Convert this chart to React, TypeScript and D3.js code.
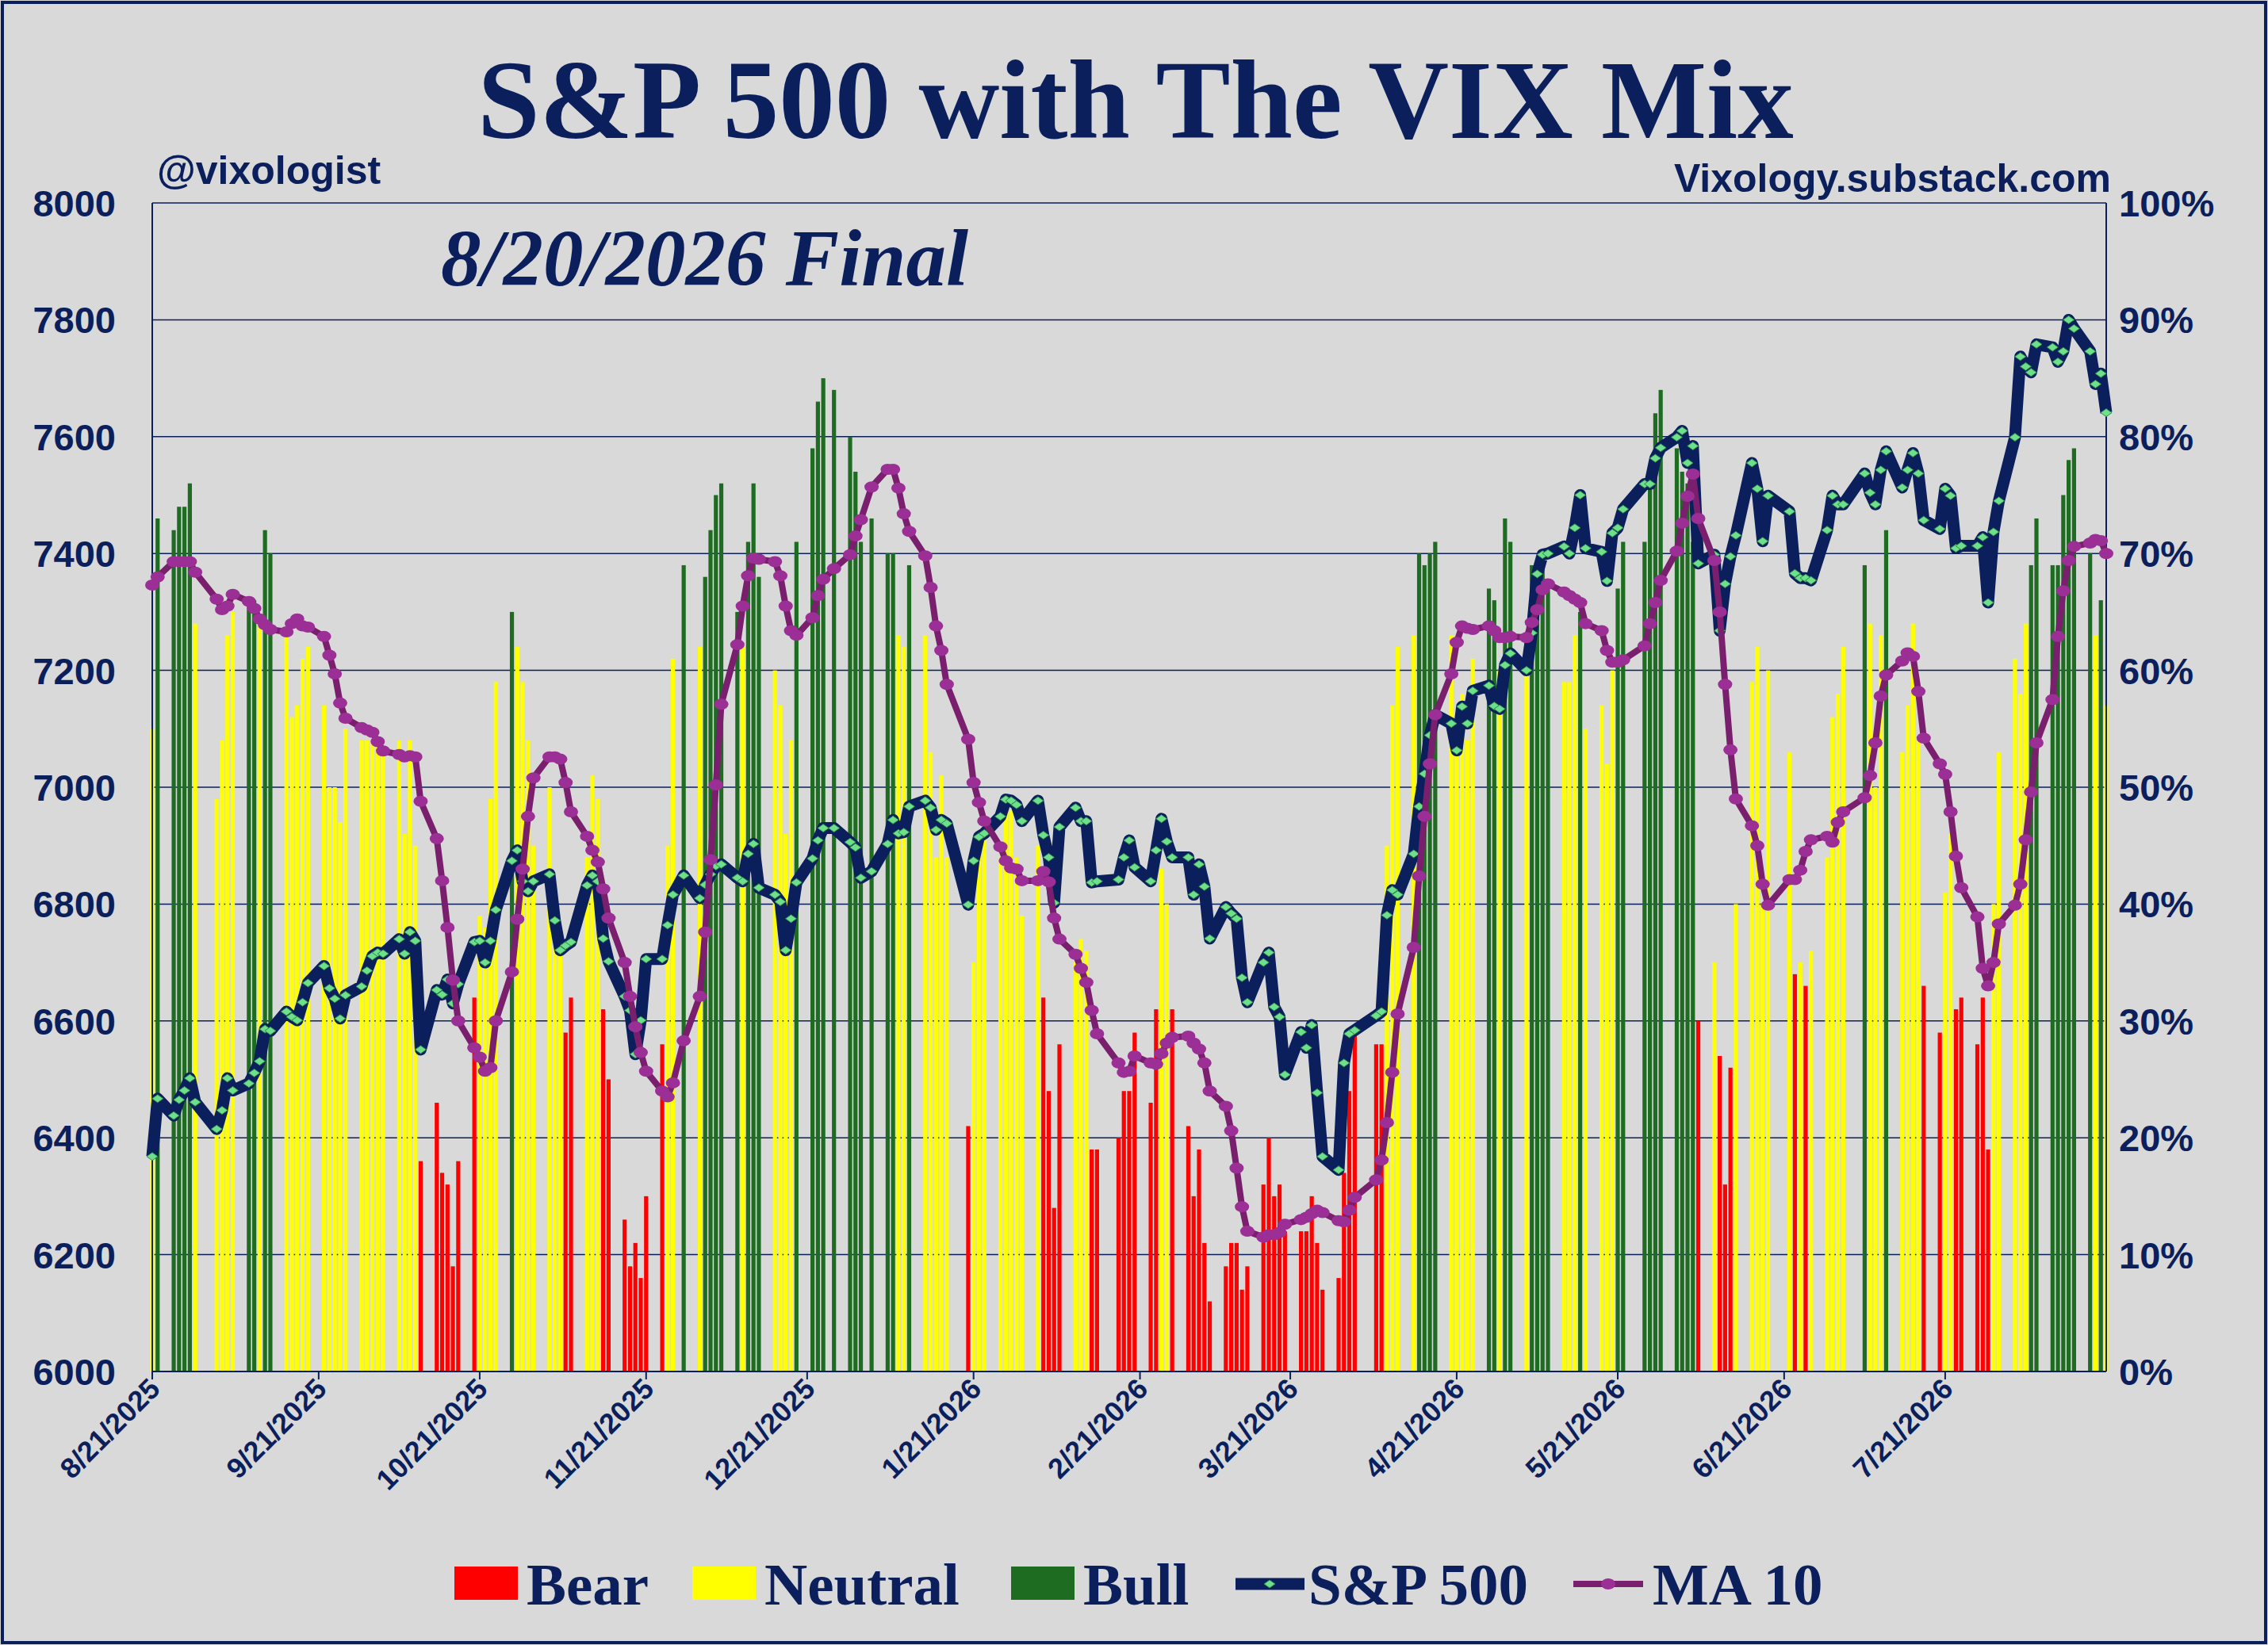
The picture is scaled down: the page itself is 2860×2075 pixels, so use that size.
import * as d3 from 'd3';

// trading-day values, 8/21/2025 .. 8/20/2026 (weekdays minus holidays)
const holidays = ['2025-09-01', '2025-11-27', '2025-12-25', '2026-01-01', '2026-01-19', '2026-02-16', '2026-04-03', '2026-05-25', '2026-06-19', '2026-07-03'];

const spx = [
  6368, 6467,
  6438, 6465, 6481, 6502, 6461,
  6415, 6447, 6502, 6481,
  6493, 6511, 6531, 6586, 6583,
  6616, 6607, 6601, 6632, 6665,
  6694, 6656, 6638, 6604, 6644,
  6659, 6686, 6711, 6717, 6715,
  6740, 6715, 6752, 6737, 6551,
  6653, 6645, 6671, 6630, 6663,
  6735, 6737, 6700, 6737, 6790,
  6874, 6892, 6839, 6822, 6839,
  6851, 6772, 6721, 6729, 6735,
  6832, 6849, 6839, 6741, 6702,
  6642, 6618, 6543, 6601, 6706,
  6706, 6764, 6816, 6849,
  6810, 6833, 6851, 6865, 6868,
  6845, 6839, 6886, 6903, 6828,
  6816, 6804, 6721, 6775, 6837,
  6878, 6909, 6930, 6930,
  6906, 6897, 6845, 6856,
  6903, 6944, 6921, 6923, 6967,
  6977, 6965, 6927, 6944, 6938,
  6799, 6874, 6915, 6921,
  6950, 6979, 6977, 6970, 6942,
  6977, 6918, 6880, 6802, 6932,
  6965, 6942, 6942, 6837, 6839,
  6842, 6880, 6909, 6863,
  6839, 6892, 6946, 6907, 6880,
  6880, 6816, 6868, 6830, 6741,
  6795, 6784, 6775, 6674, 6632,
  6700, 6717, 6624, 6607, 6508,
  6581, 6554, 6593, 6477, 6368,
  6345, 6528, 6578, 6584,
  6609, 6616, 6781, 6824, 6816,
  6886, 6967, 7023, 7089, 7124,
  7109, 7063, 7138, 7109, 7165,
  7174, 7139, 7134, 7209, 7229,
  7200, 7264, 7365, 7398, 7400,
  7412, 7400, 7444, 7500, 7409,
  7403, 7353, 7435, 7444, 7476,
  7519, 7519, 7563, 7581,
  7599, 7610, 7555, 7584, 7383,
  7398, 7268, 7348, 7395, 7431,
  7555, 7511, 7421, 7499,
  7472, 7366, 7358, 7358, 7354,
  7440, 7499, 7484, 7484,
  7537, 7504, 7484, 7543, 7575,
  7513, 7543, 7572, 7537, 7457,
  7442, 7511, 7499, 7409, 7413,
  7413, 7428, 7316, 7437, 7490,
  7599, 7737, 7720, 7710, 7758,
  7753, 7728, 7746, 7800, 7785,
  7746, 7690, 7708, 7641
];

const ma10 = [
  67.3, 68,
  69.3, 69.3, 69.3, 69.3, 68.4,
  66.1, 65.2, 65.5, 66.5,
  65.9, 65.3, 64.4, 63.9, 63.5,
  63.3, 64, 64.4, 63.8, 63.7,
  62.9, 61.3, 59.7, 57.2, 55.9,
  55.1, 54.9, 54.7, 53.9, 53.1,
  52.8, 52.6, 52.7, 52.6, 48.8,
  45.6, 42, 38, 33.5, 30,
  27.7, 26.9, 25.7, 26, 30,
  34.2, 38.7, 43, 47.5, 50.8,
  52.6, 52.6, 52.4, 50.4, 47.9,
  45.8, 44.6, 43.6, 41.3, 38.8,
  35, 32.1, 29.5, 27.3, 25.7,
  24, 23.5, 24.7, 28.3,
  32.1, 37.6, 43.8, 50.2, 57.1,
  62.2, 65.5, 68.1, 69.6, 69.5,
  69.3, 68.1, 65.5, 63.4, 63,
  64.5, 66.4, 67.8, 68.7,
  69.9, 71.5, 72.9, 75.7,
  77.2, 77.2, 75.6, 73.4, 71.9,
  69.8, 67.1, 63.8, 61.7, 58.8,
  54.1, 50.4, 48.7, 47.1,
  44.9, 43.7, 43.1, 43, 42,
  42, 42.8, 41.9, 38.8, 37,
  35.7, 34.5, 33.3, 30.9, 28.9,
  26.4, 25.6, 25.7, 27,
  26.4, 26.3, 27.2, 28.1, 28.6,
  28.7, 28.1, 27.6, 26.4, 24,
  22.7, 20.6, 17.4, 14.1, 12,
  11.5, 11.7, 11.7, 11.9, 12.6,
  13, 13.2, 13.5, 13.8, 13.6,
  12.9, 12.8, 13.8, 14.9,
  16.4, 18.1, 21.3, 25.6, 30.6,
  36.3, 42.4, 47.5, 52, 56.2,
  59.7, 62.4, 63.8, 63.6, 63.5,
  63.8, 63.4, 62.8, 62.8, 62.9,
  62.8, 64.1, 65.2, 66.9, 67.4,
  66.7, 66.4, 66.1, 65.8, 64,
  63.4, 61.7, 60.7, 60.7, 60.9,
  62.1, 64, 65.8, 67.7,
  70.2, 72.6, 74.9, 76.8, 73,
  69.4, 65, 58.8, 53.2, 49,
  46.7, 45, 41.7, 39.9,
  42.1, 42.1, 42.9, 44.5, 45.5,
  45.8, 45.3, 47, 47.9,
  49.1, 51, 53.8, 57.8, 59.6,
  60.8, 61.5, 61.2, 58.2, 54.2,
  52, 51.1, 47.9, 44.1, 41.4,
  38.9, 34.5, 33, 35, 38.3,
  39.9, 41.7, 45.5, 49.6, 53.8,
  57.5, 62.9, 66.8, 69.4, 70.6,
  70.9, 71.2, 71.1, 70
];

// daily VIX Mix reading (%) and its regime: R = Bear, N = Neutral, G = Bull
const mixPct = [
  55, 73,
  72, 74, 74, 76, 64,
  49, 54, 63, 65,
  66, 66, 64, 72, 70,
  63, 56, 57, 61, 62,
  57, 50, 50, 47, 55,
  54, 54, 54, 54, 53,
  54, 46, 54, 45, 18,
  23, 17, 16, 9, 18,
  32, 39, 38, 49, 59,
  65, 62, 59, 54, 45,
  50, 37, 36, 29, 32,
  44, 51, 49, 31, 25,
  13, 9, 11, 8, 15,
  28, 45, 61, 69,
  62, 68, 72, 75, 76,
  65, 62, 71, 76, 68,
  60, 57, 46, 54, 71,
  79, 83, 85, 84,
  80, 77, 71, 73,
  70, 70, 63, 62, 69,
  63, 53, 44, 51, 44,
  21, 35, 45, 46,
  44, 48, 48, 44, 39,
  45, 32, 24, 14, 28,
  35, 37, 36, 19, 19,
  20, 24, 24, 29,
  23, 31, 43, 40, 31,
  21, 15, 19, 11, 6,
  9, 11, 11, 7, 9,
  16, 20, 15, 16, 12,
  12, 12, 15, 11, 7,
  8, 17, 24, 29,
  28, 28, 45, 57, 62,
  63, 70, 69, 70, 71,
  63, 54, 58, 54, 61,
  67, 66, 60, 73, 71,
  60, 69, 69, 70, 67,
  59, 59, 63, 65, 55,
  57, 52, 60, 67, 71,
  71, 76, 82, 84,
  79, 77, 76, 71, 30,
  35, 27, 16, 26, 40,
  59, 62, 40, 60,
  53, 34, 35, 33, 36,
  44, 56, 58, 62,
  69, 64, 50, 63, 72,
  53, 57, 64, 54, 33,
  29, 41, 46, 31, 32,
  28, 32, 19, 40, 53,
  61, 58, 64, 69, 73,
  69, 69, 75, 78, 79,
  70, 63, 66, 57
];

const mixRegime = (
  'NG' + 'GGGGN' + 'NNNN' + 'GGNGG' + 'NNNNN' + 'NNNNN' + 'NNNNN' + 'NNNNR' + 'RRRRR' + 'RNNNN' +
  'GNNNN' + 'NNNRR' + 'NNNRR' + 'RRRRR' + 'RNNG' + 'NGGGG' + 'GNGGG' + 'NNNNG' + 'GGGG' + 'GGGG' +
  'GGNNG' + 'NNNNN' + 'RNNN' + 'NNNNN' + 'NRRRR' + 'NNNRR' + 'RRRR' + 'RRNNR' + 'RRRRR' + 'RRRRR' +
  'RRRRR' + 'RRRRR' + 'RRRR' + 'RRNNN' + 'NGGGG' + 'NNNNN' + 'GGNGG' + 'NGGGG' + 'NNNGN' + 'NNNGG' +
  'GGGG' + 'GGGGR' + 'NRRRN' + 'NNNN' + 'NRNRN' + 'NNNN' + 'GNNNG' + 'NNNNR' + 'RNNRR' + 'RRRNN' +
  'NNNGG' + 'GGGGG' + 'GNGN'
).split('');

const yTicks = [6000, 6200, 6400, 6600, 6800, 7000, 7200, 7400, 7600, 7800, 8000];
const xTickLabels = ['8/21/2025', '9/21/2025', '10/21/2025', '11/21/2025', '12/21/2025', '1/21/2026', '2/21/2026', '3/21/2026', '4/21/2026', '5/21/2026', '6/21/2026', '7/21/2026'];

const NAVY = '#0a1f5c';
const regimeColor: Record<string, string> = { R: '#ff0000', N: '#ffff00', G: '#1e6b22' };

function tradingDays(): Date[] {
  const out: Date[] = [];
  const fmt = d3.timeFormat('%Y-%m-%d');
  for (let d = new Date(2025, 7, 21); d <= new Date(2026, 7, 20); d = d3.timeDay.offset(d, 1)) {
    const wd = d.getDay();
    if (wd === 0 || wd === 6) continue;
    if (holidays.includes(fmt(d))) continue;
    out.push(d);
  }
  return out;
}

export default function App() {
  const W = 2860, H = 2075;
  const L = 192, R = 2656, T = 256, B = 1730;
  const days = tradingDays();
  const n = Math.min(days.length, spx.length, ma10.length, mixPct.length);
  const rows = d3.range(n).map(i => ({ d: days[i], s: spx[i], m: ma10[i], v: mixPct[i], r: mixRegime[i] || 'N' }));

  const x = d3.scaleTime().domain([new Date(2025, 7, 21), new Date(2026, 7, 20)]).range([L, R]);
  const y = d3.scaleLinear().domain([6000, 8000]).range([B, T]);
  const yp = d3.scaleLinear().domain([0, 100]).range([B, T]);
  const bw = 5.2;

  const spxLine = d3.line<typeof rows[0]>().x(r => x(r.d)).y(r => y(r.s));
  const maLine = d3.line<typeof rows[0]>().x(r => x(r.d)).y(r => yp(r.m));
  const parse = d3.timeParse('%m/%d/%Y');
  const diamond = (cx: number, cy: number) => `M${cx - 7},${cy} L${cx},${cy - 5} L${cx + 7},${cy} L${cx},${cy + 5} Z`;

  const sans = '"Liberation Sans", Arial, sans-serif';
  const legendFont = { fontFamily: '"Liberation Serif", "Times New Roman", serif', fontWeight: 700, fontSize: 75, fill: NAVY };

  return (
    <svg width={W} height={H} style={{ position: 'absolute', left: 0, top: 0 }}>
      <rect x={0} y={0} width={W} height={H} fill="#d9d9d9" />
      <rect x={3} y={3} width={W - 6} height={H - 6} fill="none" stroke={NAVY} strokeWidth={4} />
      <text x={1432} y={174} textAnchor="middle" style={{ fontFamily: '"Liberation Serif", serif', fontWeight: 700, fontSize: 141, fill: NAVY }}>S&amp;P 500 with The VIX Mix</text>
      <text x={198} y={232} style={{ fontFamily: sans, fontWeight: 700, fontSize: 50, fill: NAVY }}>@vixologist</text>
      <text x={2662} y={242} textAnchor="end" style={{ fontFamily: sans, fontWeight: 700, fontSize: 50, fill: NAVY }}>Vixology.substack.com</text>
      <text x={556} y={360} style={{ fontFamily: '"Liberation Serif", serif', fontWeight: 700, fontStyle: 'italic', fontSize: 101, fill: NAVY }}>8/20/2026 Final</text>

      {yTicks.map(t => (
        <g key={t}>
          <line x1={L} x2={R} y1={y(t)} y2={y(t)} stroke={NAVY} strokeWidth={1.5} />
          <text x={146} y={y(t) + 17} textAnchor="end" style={{ fontFamily: sans, fontWeight: 700, fontSize: 47, fill: NAVY }}>{t}</text>
          <text x={2672} y={y(t) + 17} style={{ fontFamily: sans, fontWeight: 700, fontSize: 47, fill: NAVY }}>{`${(t - 6000) / 20}%`}</text>
        </g>
      ))}

      {rows.map((r, i) => (
        <rect key={i} x={x(r.d) - bw / 2} y={yp(r.v)} width={bw} height={B - yp(r.v)} fill={regimeColor[r.r]} />
      ))}

      <line x1={L} x2={L} y1={T} y2={B} stroke={NAVY} strokeWidth={2} />
      <line x1={R} x2={R} y1={T} y2={B} stroke={NAVY} strokeWidth={2} />
      <line x1={L} x2={R} y1={B} y2={B} stroke={NAVY} strokeWidth={2} />

      {xTickLabels.map(lbl => {
        const px = x(parse(lbl) as Date);
        return (
          <g key={lbl}>
            <line x1={px} x2={px} y1={B} y2={B + 10} stroke={NAVY} strokeWidth={2} />
            <text transform={`translate(${px + 12},${B + 24}) rotate(-45)`} textAnchor="end" style={{ fontFamily: sans, fontWeight: 700, fontSize: 36, fill: NAVY }}>{lbl}</text>
          </g>
        );
      })}

      <path d={spxLine(rows) || ''} fill="none" stroke={NAVY} strokeWidth={15} strokeLinejoin="round" />
      {rows.map((r, i) => (
        <path key={i} d={diamond(x(r.d), y(r.s))} fill="#6ee08c" stroke="#2e8a4a" strokeWidth={1} />
      ))}
      <path d={maLine(rows) || ''} fill="none" stroke="#7a1f6e" strokeWidth={8} strokeLinejoin="round" />
      {rows.map((r, i) => (
        <ellipse key={i} cx={x(r.d)} cy={yp(r.m)} rx={9} ry={7} fill="#9b2f96" />
      ))}

      <g>
        <rect x={573} y={1976} width={80} height={42} fill="#ff0000" />
        <text x={664} y={2024} style={legendFont}>Bear</text>
        <rect x={873} y={1976} width={80} height={42} fill="#ffff00" />
        <text x={964} y={2024} style={legendFont}>Neutral</text>
        <rect x={1275} y={1976} width={80} height={42} fill="#1e6b22" />
        <text x={1366} y={2024} style={legendFont}>Bull</text>
        <line x1={1558} x2={1645} y1={1998} y2={1998} stroke={NAVY} strokeWidth={15} />
        <path d={diamond(1601, 1998)} fill="#6ee08c" stroke="#2e8a4a" />
        <text x={1650} y={2024} style={legendFont}>S&amp;P 500</text>
        <line x1={1984} x2={2072} y1={1998} y2={1998} stroke="#7a1f6e" strokeWidth={8} />
        <ellipse cx={2028} cy={1998} rx={9} ry={7} fill="#9b2f96" />
        <text x={2084} y={2024} style={legendFont}>MA 10</text>
      </g>
    </svg>
  );
}
